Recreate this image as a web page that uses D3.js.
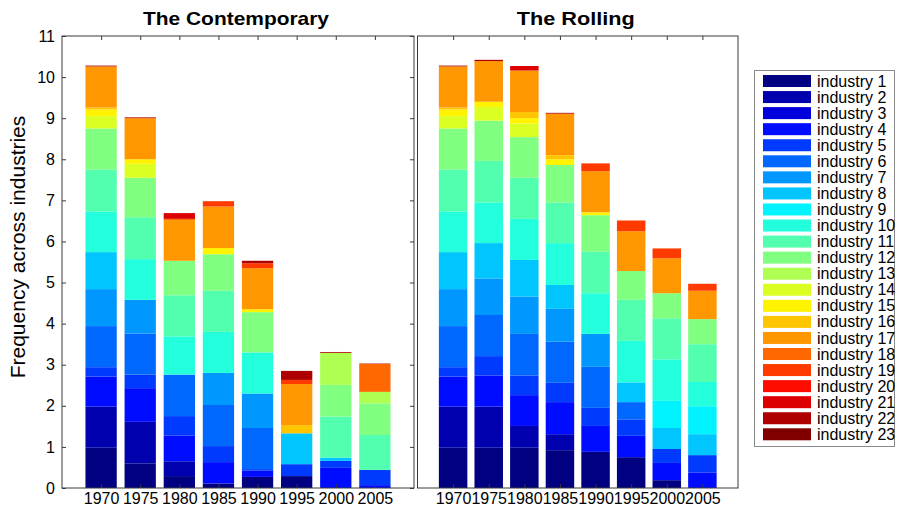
<!DOCTYPE html>
<html><head><meta charset="utf-8">
<script src="https://cdn.jsdelivr.net/npm/d3@7"></script>
<style>
body{margin:0;background:#fff}
svg{display:block}
text{font-family:"Liberation Sans",Arial,Helvetica,sans-serif;fill:#000}
</style>
</head><body>
<svg id="chart" width="899" height="508"></svg>
<script>
// ---------------- DATA ----------------
const years = [1970, 1975, 1980, 1985, 1990, 1995, 2000, 2005];
const industries = d3.range(1, 24).map(i => "industry " + i);
const panelTitles = ["The Contemporary", "The Rolling"];
const yTickValues = [0,1,2,3,4,5,6,7,8,9,10,11];
const yLabel = "Frequency across industries";

// one row per year, 23 values (industry 1 .. industry 23)
const contemporary = [
  [0.98,1.00,0,0.73,0.23,1.00,0.90,0.90,0,0.99,1.02,1.00,0,0.30,0.16,0.05,1.00,0,0,0,0,0.02,0],
  [0.60,1.01,0,0.82,0.33,1.00,0.82,0,0,0.99,1.02,0.96,0,0.34,0.11,0,1.00,0,0,0,0,0.02,0],
  [0.29,0.36,0,0.63,0.47,1.01,0,0,0,0.93,1.00,0.84,0,0,0,0,0.99,0.03,0,0,0.14,0,0],
  [0.11,0,0,0.52,0.39,1.00,0.78,0,0,1.00,1.00,0.89,0,0,0.15,0,1.01,0,0.13,0,0,0,0],
  [0.27,0,0,0.15,0.04,1.00,0.84,0,0,1.00,0,0.98,0,0,0.07,0,1.00,0,0.12,0,0,0.06,0],
  [0.29,0,0,0,0.29,0,0,0.75,0,0,0,0,0,0,0,0.20,1.00,0,0.10,0,0,0.22,0],
  [0,0,0,0.49,0.17,0,0,0.08,0,0,1.00,0.77,0.78,0,0,0,0,0,0,0,0,0.02,0],
  [0,0,0,0.07,0.37,0,0,0,0,0,0.85,0.77,0.28,0,0,0,0,0.68,0,0,0,0.01,0]
];
const rolling = [
  [0.98,1.00,0,0.73,0.23,1.00,0.90,0.90,0,0.99,1.02,1.00,0,0.30,0.16,0.05,1.00,0,0,0,0,0.02,0],
  [0.98,1.00,0,0.76,0.47,1.00,0.89,0.86,0,0.99,1.01,0.98,0,0.33,0.13,0,0.99,0,0,0,0,0.03,0],
  [0.98,0.53,0,0.75,0.48,1.01,0.91,0.89,0,1.00,1.00,0.99,0,0.33,0.13,0.15,1.01,0,0,0,0.11,0,0],
  [0.92,0.39,0,0.78,0.47,1.00,0.80,0.58,0,1.02,0.99,0.91,0,0,0.14,0.10,1.01,0,0,0,0,0.02,0],
  [0.88,0,0,0.63,0.44,1.00,0.80,0,0,0.99,1.01,0.89,0,0,0.07,0,1.00,0,0.19,0,0,0,0],
  [0.75,0,0,0.52,0.40,0.42,0,0.48,0,1.01,1.00,0.70,0,0,0,0,0.97,0,0.26,0,0,0,0],
  [0.19,0,0,0.42,0.34,0,0,0.51,0.66,1.01,1.00,0.61,0,0,0,0,0.85,0,0.24,0,0,0,0],
  [0,0,0,0.38,0.42,0,0,0.51,0.68,0.59,0.92,0.61,0,0,0,0,0.69,0,0.17,0,0,0,0]
];

// ---------------- COLOURS (MATLAB jet) ----------------
function jet(t) {
  const c = v => Math.max(0, Math.min(1, v));
  return d3.rgb(255 * c(1.5 - Math.abs(4 * t - 3)),
                255 * c(1.5 - Math.abs(4 * t - 2)),
                255 * c(1.5 - Math.abs(4 * t - 1))).formatHex();
}
const color = d3.scaleOrdinal(industries, industries.map((d, i) => jet(i / (industries.length - 1))));

// ---------------- LAYOUT ----------------
const svg = d3.select("#chart");
const plotTop = 36, plotBottom = 488;
const y = d3.scaleLinear([0, 11], [plotBottom, plotTop]);
const frameColor = "#3a3a3a";

const panels = [
  {x0: 62, x1: 414, data: contemporary, title: panelTitles[0], titleW: 186, yticks: true},
  {x0: 417.5, x1: 738, data: rolling, title: panelTitles[1], titleW: 118, yticks: false}
];

panels.forEach(p => {
  const x = d3.scaleLinear([1965, 2010], [p.x0, p.x1]);
  const g = svg.append("g");
  const rows = years.map((yr, j) => {
    const o = {year: yr};
    industries.forEach((k, i) => o[k] = p.data[j][i]);
    return o;
  });
  const series = d3.stack().keys(industries)(rows);
  const halfW = 2; // bar width 0.8 * 5 years
  g.selectAll("g.s").data(series).join("g").attr("class", "s")
    .attr("fill", d => color(d.key))
    .selectAll("rect").data(d => d.filter(s => s[1] - s[0] > 0)).join("rect")
    .attr("x", d => x(d.data.year - halfW))
    .attr("width", d => x(d.data.year + halfW) - x(d.data.year - halfW))
    .attr("y", d => y(d[1]))
    .attr("height", d => y(d[0]) - y(d[1]));

  const topAxis = g.append("g").attr("transform", `translate(0,${plotTop})`)
    .call(d3.axisBottom(x).tickValues(years).tickSize(4).tickFormat(""));
  const botAxis = g.append("g").attr("transform", `translate(0,${plotBottom})`)
    .call(d3.axisBottom(x).tickValues(years).tickSize(-4).tickPadding(5).tickFormat(d3.format("d")));
  [topAxis, botAxis].forEach(a => {
    a.select(".domain").remove();
    a.selectAll("line").attr("stroke", frameColor);
  });
  botAxis.selectAll("text").attr("font-size", 16).attr("fill", "#000")
    .style("font-family", '"Liberation Sans",Arial,sans-serif');

  if (p.yticks) {
    const la = g.append("g").attr("transform", `translate(${p.x0},0)`)
      .call(d3.axisLeft(y).tickValues(yTickValues).tickSize(-4).tickPadding(7).tickFormat(d3.format("d")));
    const ra = g.append("g").attr("transform", `translate(${p.x1},0)`)
      .call(d3.axisLeft(y).tickValues(yTickValues).tickSize(4).tickFormat(""));
    [la, ra].forEach(a => { a.select(".domain").remove(); a.selectAll("line").attr("stroke", frameColor); });
    la.selectAll("text").attr("font-size", 16).attr("fill", "#000")
      .style("font-family", '"Liberation Sans",Arial,sans-serif');
  }

  g.append("rect").attr("x", p.x0).attr("y", plotTop)
    .attr("width", p.x1 - p.x0).attr("height", plotBottom - plotTop)
    .attr("fill", "none").attr("stroke", frameColor).attr("stroke-width", 1);

  svg.append("text").attr("x", (p.x0 + p.x1) / 2 - 2).attr("y", 25)
    .attr("text-anchor", "middle").attr("font-size", 19).attr("font-weight", "bold")
    .attr("textLength", p.titleW).attr("lengthAdjust", "spacingAndGlyphs")
    .text(p.title);
});

// y label
svg.append("text")
  .attr("transform", "translate(25,247) rotate(-90)")
  .attr("text-anchor", "middle").attr("font-size", 21)
  .text(yLabel);

// ---------------- LEGEND ----------------
const lg = svg.append("g");
lg.append("rect").attr("x", 754.5).attr("y", 70.5).attr("width", 140).attr("height", 376)
  .attr("fill", "#fff").attr("stroke", "#8a8a8a");
const rowY = d3.scalePoint(industries, [81, 434.3]);
const items = lg.selectAll("g.item").data(industries).join("g").attr("class", "item")
  .attr("transform", d => `translate(0,${rowY(d)})`);
items.append("rect").attr("x", 763).attr("y", -6).attr("width", 48).attr("height", 12)
  .attr("fill", d => color(d));
items.append("text").attr("x", 817).attr("dy", "0.35em").attr("font-size", 16).text(d => d);
</script>
</body></html>
